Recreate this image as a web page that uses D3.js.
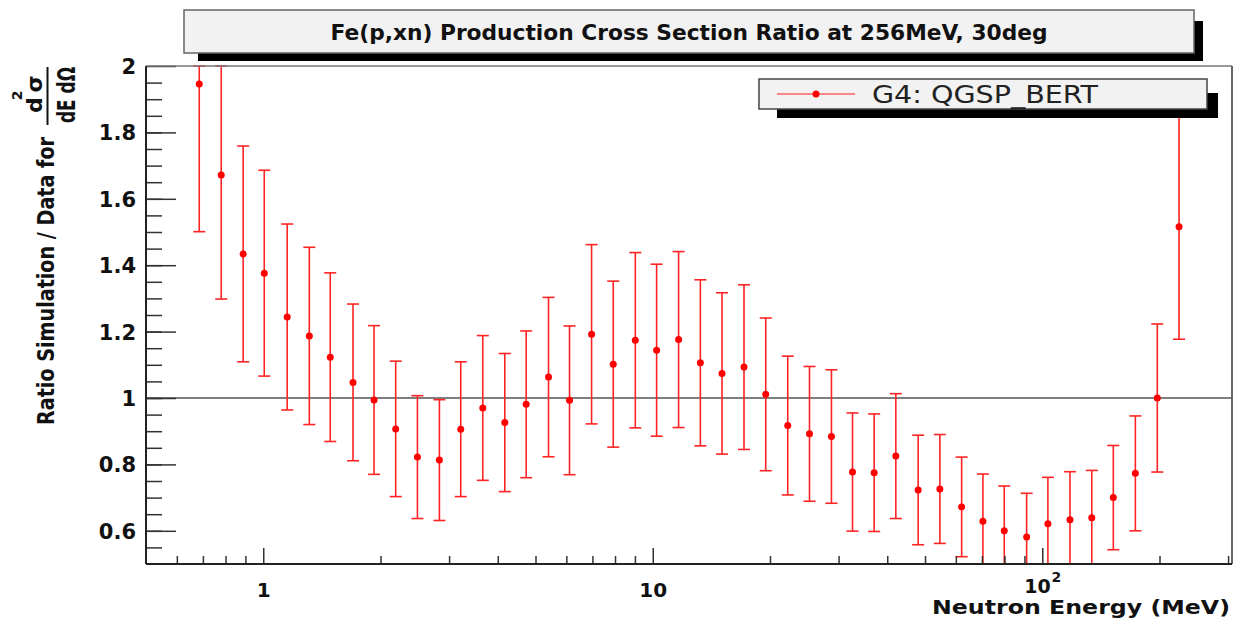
<!DOCTYPE html>
<html>
<head>
<meta charset="utf-8">
<script src="https://cdn.jsdelivr.net/npm/d3@7"></script>
<style>
  html, body { margin: 0; padding: 0; background: #fff; }
  svg { display: block; }
  text { font-family: "DejaVu Sans", "Liberation Sans", sans-serif; }
</style>
</head>
<body>
<svg id="chart" width="1247" height="619"></svg>
<script>
// Neutron energy bin centres (MeV)
const energy = [0.685, 0.780, 0.888, 1.006, 1.152, 1.313, 1.486, 1.700, 1.925, 2.188,
  2.488, 2.833, 3.214, 3.661, 4.170, 4.732, 5.400, 6.114, 6.965, 7.917,
  9.020, 10.23, 11.65, 13.25, 15.06, 17.15, 19.50, 22.21, 25.26, 28.76,
  32.57, 37.02, 42.08, 48.02, 54.59, 62.09, 70.41, 79.88, 91.18, 103.4,
  117.8, 134.0, 152.2, 173.4, 197.4, 224.5];

// Simulation / data ratio for d2sigma/dE dOmega
const ratio = [1.946, 1.672, 1.434, 1.376, 1.244, 1.187, 1.123, 1.047, 0.994, 0.907,
  0.822, 0.813, 0.906, 0.970, 0.926, 0.981, 1.063, 0.993, 1.192, 1.102,
  1.174, 1.144, 1.176, 1.106, 1.074, 1.093, 1.011, 0.917, 0.892, 0.884,
  0.777, 0.775, 0.825, 0.723, 0.726, 0.672, 0.629, 0.600, 0.581, 0.621,
  0.633, 0.639, 0.700, 0.773, 1.000, 1.516];

// Uncertainty on the ratio
const ratioErr = [0.445, 0.374, 0.325, 0.310, 0.280, 0.267, 0.254, 0.236, 0.224, 0.204,
  0.185, 0.182, 0.203, 0.218, 0.208, 0.221, 0.240, 0.224, 0.270, 0.250,
  0.264, 0.259, 0.265, 0.250, 0.243, 0.248, 0.230, 0.209, 0.203, 0.201,
  0.178, 0.177, 0.188, 0.165, 0.164, 0.150, 0.142, 0.135, 0.132, 0.140,
  0.145, 0.143, 0.157, 0.173, 0.223, 0.339];

const yMajorTicks = [0.6, 0.8, 1.0, 1.2, 1.4, 1.6, 1.8, 2.0];
const yTickLabels = ["0.6", "0.8", "1", "1.2", "1.4", "1.6", "1.8", "2"];
const xMajorTicks = [1, 10, 100];
const xTickLabels = [["1", ""], ["10", ""], ["10", "2"]];
const xMinorTicks = [0.6, 0.7, 0.8, 0.9, 2, 3, 4, 5, 6, 7, 8, 9,
  20, 30, 40, 50, 60, 70, 80, 90, 200, 300];

const titleText = "Fe(p,xn) Production Cross Section Ratio at 256MeV, 30deg";
const legendText = "G4: QGSP_BERT";
const xTitle = "Neutron Energy (MeV)";
const yTitle = "Ratio Simulation / Data for";

const svg = d3.select("#chart");
const frame = { left: 146, right: 1232, top: 66, bottom: 564 };

const x = d3.scaleLog().domain([0.5, 307]).range([frame.left, frame.right]);
const y = d3.scaleLinear().domain([0.5, 2.0]).range([frame.bottom, frame.top]);
const yc = y.copy().clamp(true);

const data = energy.map((e, i) => ({ e, r: ratio[i], err: ratioErr[i] }));

svg.append("rect").attr("x", 0).attr("y", 0).attr("width", 1247).attr("height", 619).attr("fill", "#fff");

// Reference line at ratio = 1
svg.append("line")
  .attr("x1", frame.left).attr("x2", frame.right)
  .attr("y1", y(1)).attr("y2", y(1))
  .attr("stroke", "#555").attr("stroke-width", 1.5);

// Error bars with caps, clipped to the frame
const bars = svg.append("g").attr("stroke", "#ff2424").attr("stroke-width", 1.6);
const capHalf = 6;
data.forEach(d => {
  const yTop = yc(d.r + d.err), yBot = yc(d.r - d.err), cx = x(d.e);
  bars.append("line").attr("x1", cx).attr("x2", cx).attr("y1", yTop).attr("y2", yBot);
  bars.append("line").attr("x1", cx - capHalf).attr("x2", cx + capHalf).attr("y1", yTop).attr("y2", yTop);
  bars.append("line").attr("x1", cx - capHalf).attr("x2", cx + capHalf).attr("y1", yBot).attr("y2", yBot);
});

// Markers
svg.append("g").selectAll("circle").data(data).join("circle")
  .attr("cx", d => x(d.e)).attr("cy", d => y(d.r)).attr("r", 3.5)
  .attr("fill", "#ff0000");

// Y axis: major and minor ticks pointing into the frame
const yAxisMajor = d3.axisLeft(y).tickValues(yMajorTicks)
  .tickSizeInner(-30).tickSizeOuter(0).tickPadding(10)
  .tickFormat((d, i) => yTickLabels[i]);
const yAxisMinor = d3.axisLeft(y).tickValues(d3.range(0.55, 2.0, 0.05))
  .tickSizeInner(-16).tickSizeOuter(0).tickFormat("");

const gyMinor = svg.append("g").attr("transform", `translate(${frame.left},0)`).call(yAxisMinor);
const gy = svg.append("g").attr("transform", `translate(${frame.left},0)`).call(yAxisMajor);
[gy, gyMinor].forEach(g => {
  g.select(".domain").remove();
  g.selectAll(".tick line").attr("stroke", "#333").attr("stroke-width", 1.5);
});
gy.selectAll(".tick text")
  .attr("font-size", 21).attr("font-weight", "bold").attr("fill", "#111")
  .attr("dy", "0.36em");

// X axis (log): major and minor ticks
const xAxisMajor = d3.axisBottom(x).tickValues(xMajorTicks)
  .tickSizeInner(-16).tickSizeOuter(0).tickFormat("");
const xAxisMinor = d3.axisBottom(x).tickValues(xMinorTicks)
  .tickSizeInner(-8).tickSizeOuter(0).tickFormat("");
const gxMinor = svg.append("g").attr("transform", `translate(0,${frame.bottom})`).call(xAxisMinor);
const gx = svg.append("g").attr("transform", `translate(0,${frame.bottom})`).call(xAxisMajor);
[gx, gxMinor].forEach(g => {
  g.select(".domain").remove();
  g.selectAll(".tick line").attr("stroke", "#333").attr("stroke-width", 1.5);
});
gx.selectAll(".tick").each(function(d, i) {
  const hasExp = !!xTickLabels[i][1];
  const t = d3.select(this).append("text")
    .attr("y", hasExp ? 29 : 33).attr("text-anchor", "middle")
    .attr("font-size", hasExp ? 19 : 20).attr("font-weight", "bold").attr("fill", "#111");
  t.append("tspan").text(xTickLabels[i][0]);
  if (hasExp) {
    t.append("tspan").attr("font-size", 14).attr("dy", -11).attr("dx", 1).text(xTickLabels[i][1]);
  }
});

// Frame
svg.append("line").attr("x1", frame.left).attr("x2", frame.right).attr("y1", frame.top).attr("y2", frame.top)
  .attr("stroke", "#777").attr("stroke-width", 1.5);
svg.append("line").attr("x1", frame.right).attr("x2", frame.right).attr("y1", frame.top).attr("y2", frame.bottom)
  .attr("stroke", "#666").attr("stroke-width", 2);
svg.append("line").attr("x1", frame.left).attr("x2", frame.left).attr("y1", frame.top).attr("y2", frame.bottom)
  .attr("stroke", "#222").attr("stroke-width", 2);
svg.append("line").attr("x1", frame.left).attr("x2", frame.right).attr("y1", frame.bottom).attr("y2", frame.bottom)
  .attr("stroke", "#222").attr("stroke-width", 2);

// X axis title
svg.append("text")
  .attr("x", 932).attr("y", 614)
  .attr("font-size", 20).attr("font-weight", "bold").attr("fill", "#111")
  .attr("textLength", 298).attr("lengthAdjust", "spacingAndGlyphs")
  .text(xTitle);

// Y axis title, rotated, with the d2sigma / dE dOmega fraction
const yt = svg.append("g").attr("transform", "rotate(-90)").attr("fill", "#111");
yt.append("text")
  .attr("x", -425).attr("y", 54)
  .attr("font-size", 23).attr("font-weight", "bold")
  .attr("textLength", 288).attr("lengthAdjust", "spacingAndGlyphs")
  .text(yTitle);
yt.append("line")
  .attr("x1", -125).attr("x2", -67).attr("y1", 47.5).attr("y2", 47.5)
  .attr("stroke", "#111").attr("stroke-width", 2);
const num = yt.append("text").attr("x", -113).attr("y", 42).attr("font-size", 22).attr("font-weight", "bold");
num.append("tspan").text("d");
num.append("tspan").attr("font-size", 14).attr("dy", -20).attr("dx", -3).text("2");
num.append("tspan").attr("font-size", 22).attr("dy", 20).attr("dx", -2).text("σ");
yt.append("text")
  .attr("x", -123).attr("y", 75)
  .attr("font-size", 24).attr("font-weight", "bold")
  .attr("textLength", 56).attr("lengthAdjust", "spacingAndGlyphs")
  .text("dE dΩ");

// Title box with drop shadow
svg.append("rect").attr("x", 198).attr("y", 21).attr("width", 1005).attr("height", 40).attr("fill", "#000");
svg.append("rect").attr("x", 184).attr("y", 10).attr("width", 1010).attr("height", 43)
  .attr("fill", "#f2f2f2").attr("stroke", "#666").attr("stroke-width", 1.5);
svg.append("text")
  .attr("x", 330.5).attr("y", 39.5)
  .attr("font-size", 21).attr("font-weight", "bold").attr("fill", "#111")
  .attr("textLength", 717).attr("lengthAdjust", "spacingAndGlyphs")
  .text(titleText);

// Legend box with drop shadow
svg.append("rect").attr("x", 777).attr("y", 93).attr("width", 441).attr("height", 25).attr("fill", "#000");
svg.append("rect").attr("x", 759).attr("y", 79).attr("width", 448).attr("height", 30)
  .attr("fill", "#f2f2f2").attr("stroke", "#444").attr("stroke-width", 1.5);
svg.append("line").attr("x1", 777).attr("x2", 855).attr("y1", 94).attr("y2", 94)
  .attr("stroke", "#ff5f5f").attr("stroke-width", 1.6);
svg.append("circle").attr("cx", 816).attr("cy", 94).attr("r", 3.5).attr("fill", "#ff0000");
svg.append("text")
  .attr("x", 872).attr("y", 102.5)
  .attr("font-size", 24).attr("fill", "#222")
  .attr("textLength", 226).attr("lengthAdjust", "spacingAndGlyphs")
  .text(legendText);
</script>
</body>
</html>
